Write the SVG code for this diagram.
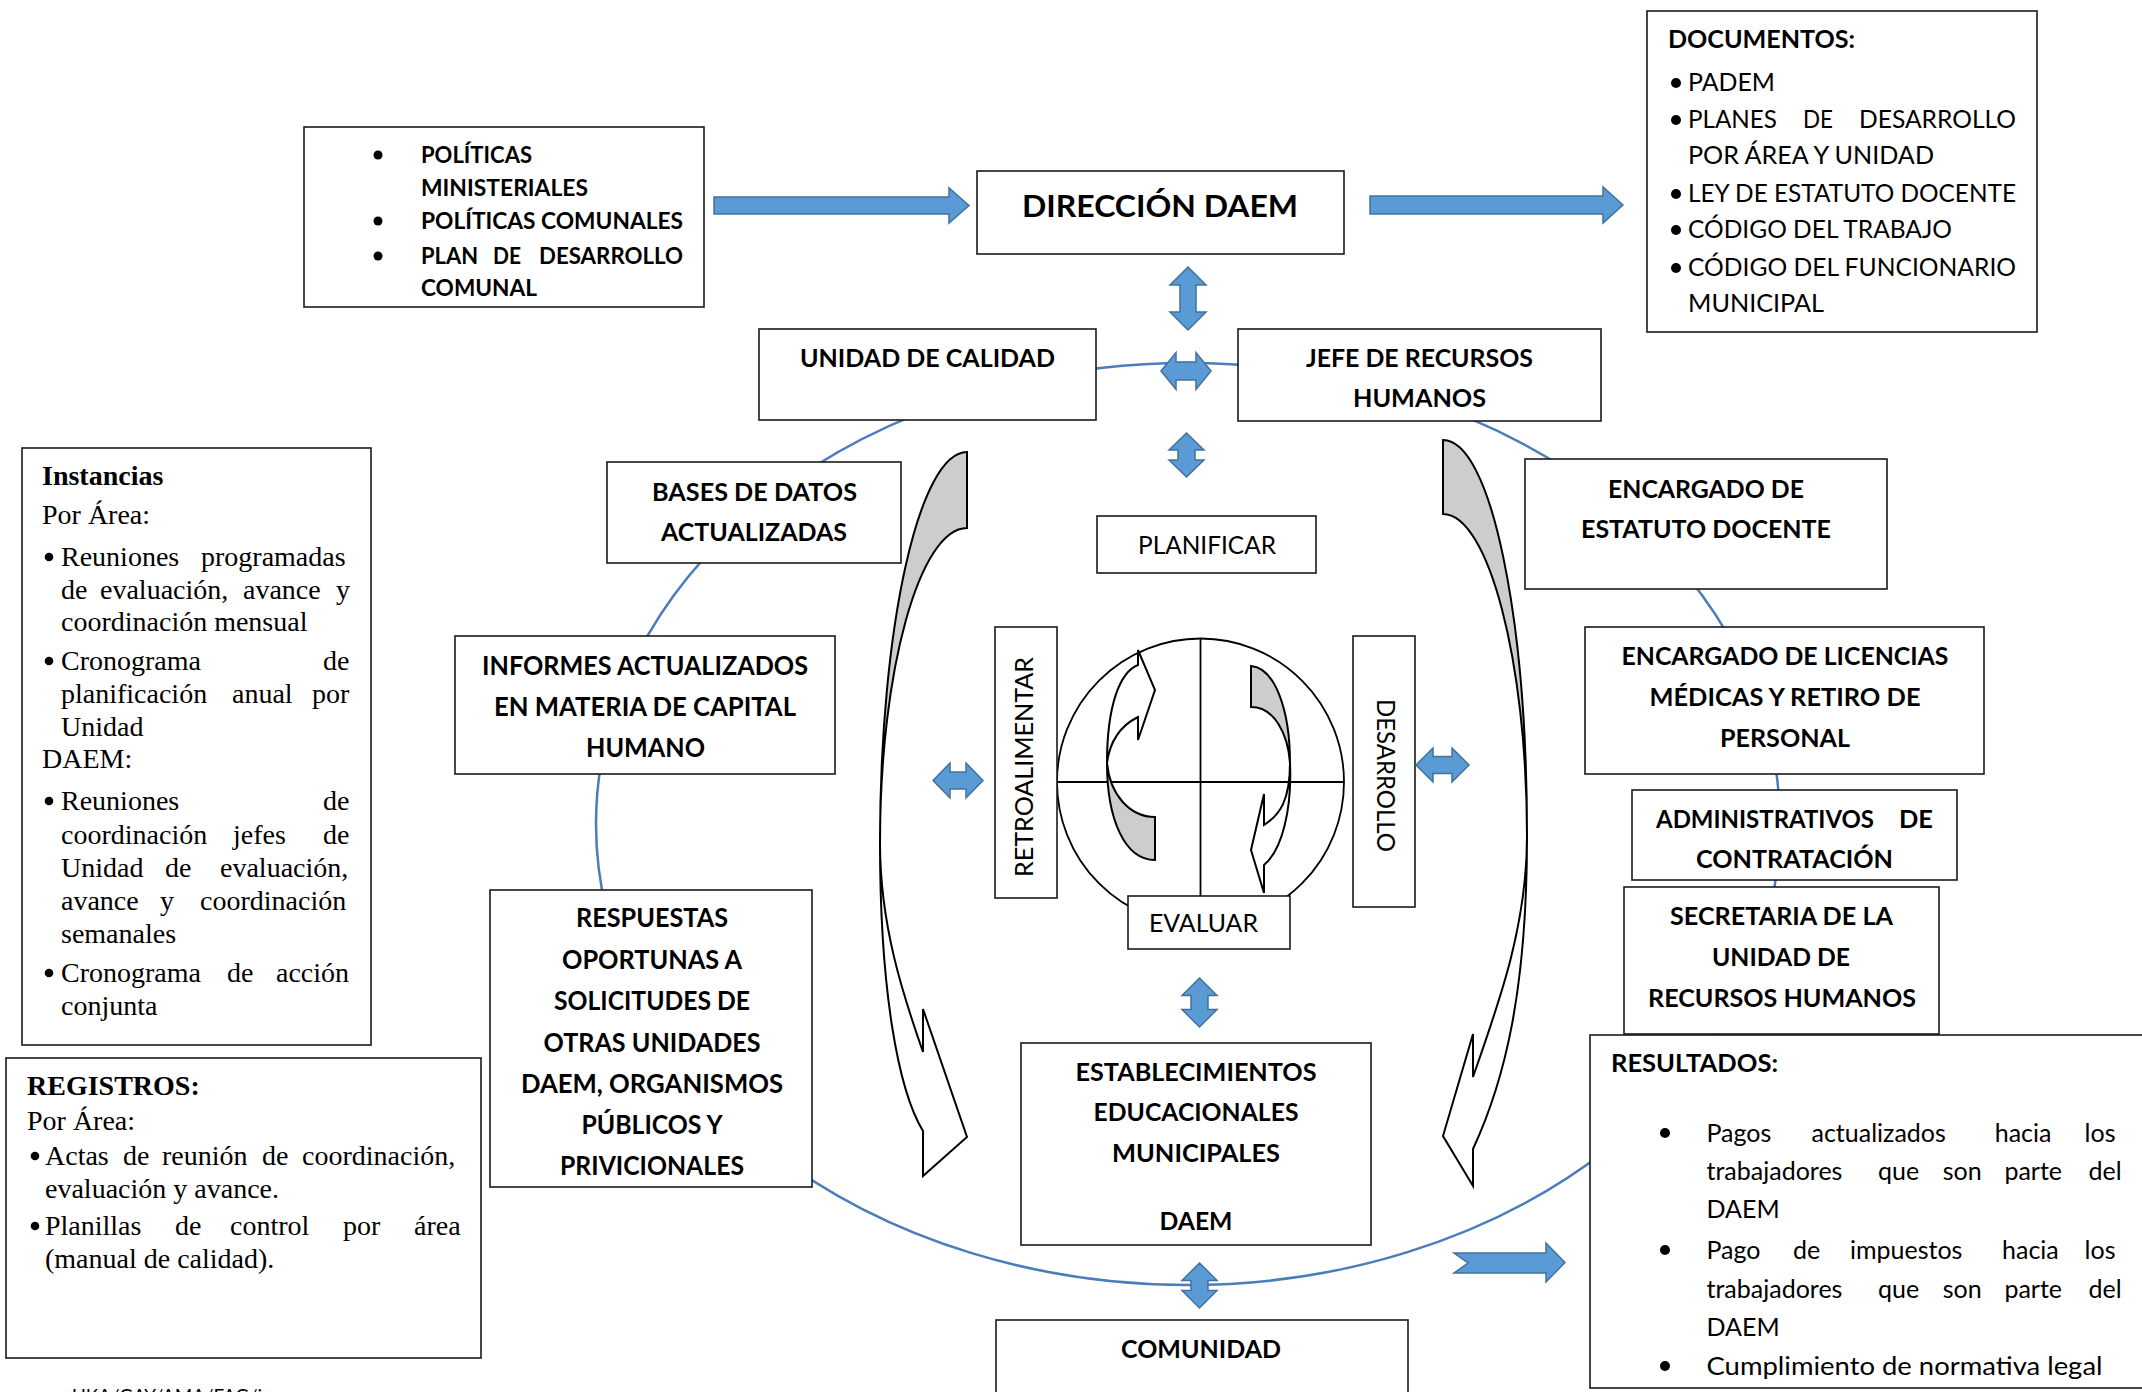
<svg xmlns="http://www.w3.org/2000/svg" width="2142" height="1392" viewBox="0 0 2142 1392">
<style>
.bg{fill:#fff}
.box{fill:#fff;stroke:#1a1a1a;stroke-width:1.6}
.blue{fill:#5B9BD5;stroke:#41719C;stroke-width:1.5;stroke-linejoin:miter}
.ring{fill:none;stroke:#4A7EBB;stroke-width:2.5}
.ln{fill:none;stroke:#000;stroke-width:1.8}
.cg{fill:#CDCDCD;stroke:#000;stroke-width:2;stroke-linejoin:miter}
.cw{fill:#fff;stroke:#000;stroke-width:2;stroke-linejoin:miter}
.cb{font-family:Lato,"Open Sans",sans-serif;font-weight:700;fill:#000}
.cr{font-family:Lato,"Open Sans",sans-serif;font-weight:400;fill:#000}
.tr{font-family:"Liberation Serif","Times New Roman",serif;font-size:28px;fill:#000}
.tb{font-family:"Liberation Serif","Times New Roman",serif;font-size:28px;font-weight:700;fill:#000}
.m{text-anchor:middle}
.dot{fill:#000}
</style>
<defs>
<clipPath id="resClip"><rect x="1590" y="1036" width="560" height="344"/></clipPath>
</defs>
<rect class="bg" x="0" y="0" width="2142" height="1392"/>

<g id="connectors">
<ellipse class="ring" cx="1188" cy="824" rx="592" ry="461"/>
</g>

<g id="politicas">
<rect class="box" x="304" y="127" width="400" height="180"/>
<circle class="dot" cx="378" cy="155" r="4.5"/>
<circle class="dot" cx="378" cy="221" r="4.5"/>
<circle class="dot" cx="378" cy="256" r="4.5"/>
<g class="cb" font-size="22">
<text x="421" y="163" textLength="111" lengthAdjust="spacingAndGlyphs">POLÍTICAS</text>
<text x="421" y="196" textLength="167" lengthAdjust="spacingAndGlyphs">MINISTERIALES</text>
<text x="421" y="229" textLength="262" lengthAdjust="spacingAndGlyphs">POLÍTICAS COMUNALES</text>
<text x="421" y="264" textLength="57" lengthAdjust="spacingAndGlyphs">PLAN</text>
<text x="493" y="264" textLength="28" lengthAdjust="spacingAndGlyphs">DE</text>
<text x="539" y="264" textLength="144" lengthAdjust="spacingAndGlyphs">DESARROLLO</text>
<text x="421" y="296" textLength="116" lengthAdjust="spacingAndGlyphs">COMUNAL</text>
</g>
</g>

<g id="direccion">
<rect class="box" x="977" y="171" width="367" height="83"/>
<text class="cb m" x="1160" y="217" font-size="30" textLength="276" lengthAdjust="spacingAndGlyphs">DIRECCIÓN DAEM</text>
</g>

<g id="documentos">
<rect class="box" x="1647" y="11" width="390" height="321"/>
<text class="cb" x="1668" y="48" font-size="25" textLength="187" lengthAdjust="spacingAndGlyphs">DOCUMENTOS:</text>
<circle class="dot" cx="1676" cy="83" r="5"/>
<circle class="dot" cx="1676" cy="120" r="5"/>
<circle class="dot" cx="1676" cy="194" r="5"/>
<circle class="dot" cx="1676" cy="230" r="5"/>
<circle class="dot" cx="1676" cy="268" r="5"/>
<g class="cr" font-size="25">
<text x="1688" y="91" textLength="87" lengthAdjust="spacingAndGlyphs">PADEM</text>
<text x="1688" y="128" textLength="89" lengthAdjust="spacingAndGlyphs">PLANES</text>
<text x="1803" y="128" textLength="30" lengthAdjust="spacingAndGlyphs">DE</text>
<text x="1859" y="128" textLength="157" lengthAdjust="spacingAndGlyphs">DESARROLLO</text>
<text x="1688" y="164" textLength="246" lengthAdjust="spacingAndGlyphs">POR ÁREA Y UNIDAD</text>
<text x="1688" y="202" textLength="328" lengthAdjust="spacingAndGlyphs">LEY DE ESTATUTO DOCENTE</text>
<text x="1688" y="238" textLength="264" lengthAdjust="spacingAndGlyphs">CÓDIGO DEL TRABAJO</text>
<text x="1688" y="276" textLength="328" lengthAdjust="spacingAndGlyphs">CÓDIGO DEL FUNCIONARIO</text>
<text x="1688" y="312" textLength="136" lengthAdjust="spacingAndGlyphs">MUNICIPAL</text>
</g>
</g>

<g id="unidad-calidad">
<rect class="box" x="759" y="329" width="337" height="91"/>
<text class="cb m" x="927.5" y="367" font-size="25" textLength="255" lengthAdjust="spacingAndGlyphs">UNIDAD DE CALIDAD</text>
</g>

<g id="jefe-rrhh">
<rect class="box" x="1238" y="329" width="363" height="92"/>
<text class="cb m" x="1419.5" y="367" font-size="24" textLength="227" lengthAdjust="spacingAndGlyphs">JEFE DE RECURSOS</text>
<text class="cb m" x="1419.5" y="407" font-size="24" textLength="133" lengthAdjust="spacingAndGlyphs">HUMANOS</text>
</g>

<g id="instancias">
<rect class="box" x="22" y="448" width="349" height="597"/>
<text class="tb" x="42" y="485">Instancias</text>
<text class="tr" x="42" y="524">Por Área:</text>
<circle class="dot" cx="49" cy="557" r="4.3"/>
<text class="tr" y="566"><tspan x="61">Reuniones</tspan><tspan x="201">programadas</tspan></text>
<text class="tr" y="599"><tspan x="61">de</tspan><tspan x="100">evaluación,</tspan><tspan x="243">avance</tspan><tspan x="336">y</tspan></text>
<text class="tr" x="61" y="631">coordinación mensual</text>
<circle class="dot" cx="49" cy="661" r="4.3"/>
<text class="tr" y="670"><tspan x="61">Cronograma</tspan><tspan x="323">de</tspan></text>
<text class="tr" y="703"><tspan x="61">planificación</tspan><tspan x="232">anual</tspan><tspan x="312">por</tspan></text>
<text class="tr" x="61" y="736">Unidad</text>
<text class="tr" x="42" y="768">DAEM:</text>
<circle class="dot" cx="49" cy="801" r="4.3"/>
<text class="tr" y="810"><tspan x="61">Reuniones</tspan><tspan x="323">de</tspan></text>
<text class="tr" y="844"><tspan x="61">coordinación</tspan><tspan x="233">jefes</tspan><tspan x="323">de</tspan></text>
<text class="tr" y="877"><tspan x="61">Unidad</tspan><tspan x="165">de</tspan><tspan x="220">evaluación,</tspan></text>
<text class="tr" y="910"><tspan x="61">avance</tspan><tspan x="160">y</tspan><tspan x="200">coordinación</tspan></text>
<text class="tr" x="61" y="943">semanales</text>
<circle class="dot" cx="49" cy="973" r="4.3"/>
<text class="tr" y="982"><tspan x="61">Cronograma</tspan><tspan x="227">de</tspan><tspan x="276">acción</tspan></text>
<text class="tr" x="61" y="1015">conjunta</text>
</g>

<g id="registros">
<rect class="box" x="6" y="1058" width="475" height="300"/>
<text class="tb" x="27" y="1095">REGISTROS:</text>
<text class="tr" x="27" y="1130">Por Área:</text>
<circle class="dot" cx="35" cy="1156" r="4.3"/>
<text class="tr" y="1165"><tspan x="45">Actas</tspan><tspan x="123">de</tspan><tspan x="162">reunión</tspan><tspan x="262">de</tspan><tspan x="302">coordinación,</tspan></text>
<text class="tr" x="45" y="1198">evaluación y avance.</text>
<circle class="dot" cx="35" cy="1226" r="4.3"/>
<text class="tr" y="1235"><tspan x="45">Planillas</tspan><tspan x="175">de</tspan><tspan x="230">control</tspan><tspan x="343">por</tspan><tspan x="414">área</tspan></text>
<text class="tr" x="45" y="1268">(manual de calidad).</text>
</g>

<g id="footer">
<text class="cr" x="72" y="1403" font-size="20" textLength="216" lengthAdjust="spacingAndGlyphs">UKA/GAY/AMA/FAG/jqm</text>
</g>

<g id="bases-datos">
<rect class="box" x="607" y="462" width="294" height="101"/>
<text class="cb m" x="754.5" y="501" font-size="25" textLength="205" lengthAdjust="spacingAndGlyphs">BASES DE DATOS</text>
<text class="cb m" x="754" y="541" font-size="25" textLength="186" lengthAdjust="spacingAndGlyphs">ACTUALIZADAS</text>
</g>

<g id="informes">
<rect class="box" x="455" y="636" width="380" height="138"/>
<text class="cb m" x="645" y="675" font-size="26" textLength="326" lengthAdjust="spacingAndGlyphs">INFORMES ACTUALIZADOS</text>
<text class="cb m" x="645" y="716" font-size="26" textLength="302" lengthAdjust="spacingAndGlyphs">EN MATERIA DE CAPITAL</text>
<text class="cb m" x="645.5" y="757" font-size="26" textLength="119" lengthAdjust="spacingAndGlyphs">HUMANO</text>
</g>

<g id="respuestas">
<rect class="box" x="490" y="890" width="322" height="297"/>
<g class="cb m" font-size="26">
<text x="652" y="927" textLength="152" lengthAdjust="spacingAndGlyphs">RESPUESTAS</text>
<text x="652" y="969" textLength="180" lengthAdjust="spacingAndGlyphs">OPORTUNAS A</text>
<text x="652" y="1010" textLength="196" lengthAdjust="spacingAndGlyphs">SOLICITUDES DE</text>
<text x="652" y="1052" textLength="217" lengthAdjust="spacingAndGlyphs">OTRAS UNIDADES</text>
<text x="652" y="1093" textLength="262" lengthAdjust="spacingAndGlyphs">DAEM, ORGANISMOS</text>
<text x="652" y="1134" textLength="141" lengthAdjust="spacingAndGlyphs">PÚBLICOS Y</text>
<text x="652" y="1175" textLength="184" lengthAdjust="spacingAndGlyphs">PRIVICIONALES</text>
</g>
</g>

<g id="planificar">
<rect class="box" x="1097" y="516" width="219" height="57"/>
<text class="cr m" x="1207" y="554" font-size="25" textLength="138" lengthAdjust="spacingAndGlyphs">PLANIFICAR</text>
</g>

<g id="ciclo">
<circle class="ln" cx="1200.5" cy="782" r="143.5"/>
<path class="ln" d="M1057,782 H1344 M1200.5,638.5 V896"/>
<path class="cg" d="M1155,860 C1125,860 1107,820 1107,763 C1110,795 1130,817 1155,817 Z"/>
<path class="cw" d="M1107,763 C1107,705 1120,672 1138,665 L1138,650 L1155,690 L1138,740 L1138,717 C1122,725 1110,740 1107,763 Z"/>
<path class="cg" d="M1251,666 C1275,668 1290,710 1290,763 C1288,735 1275,707 1251,707 Z"/>
<path class="cw" d="M1290,763 C1290,800 1280,815 1264,825 L1264,794 L1251,850 L1264,893 L1264,865 C1282,850 1292,810 1290,763 Z"/>
</g>

<g id="retroalimentar">
<rect class="box" x="995" y="627" width="62" height="271"/>
<text class="cr m" transform="translate(1033,767) rotate(-90)" x="0" y="0" font-size="25" textLength="220" lengthAdjust="spacingAndGlyphs">RETROALIMENTAR</text>
</g>

<g id="desarrollo">
<rect class="box" x="1353" y="636" width="62" height="271"/>
<text class="cr m" transform="translate(1377,775.5) rotate(90)" x="0" y="0" font-size="25" textLength="153" lengthAdjust="spacingAndGlyphs">DESARROLLO</text>
</g>

<g id="evaluar">
<rect class="box" x="1128" y="896" width="162" height="53"/>
<text class="cr m" x="1203.5" y="932" font-size="25" textLength="109" lengthAdjust="spacingAndGlyphs">EVALUAR</text>
</g>

<g id="establecimientos">
<rect class="box" x="1021" y="1043" width="350" height="202"/>
<g class="cb m" font-size="24">
<text x="1196" y="1081" textLength="241" lengthAdjust="spacingAndGlyphs">ESTABLECIMIENTOS</text>
<text x="1196" y="1121" textLength="205" lengthAdjust="spacingAndGlyphs">EDUCACIONALES</text>
<text x="1196" y="1162" textLength="168" lengthAdjust="spacingAndGlyphs">MUNICIPALES</text>
<text x="1196" y="1230" textLength="73" lengthAdjust="spacingAndGlyphs">DAEM</text>
</g>
</g>

<g id="comunidad">
<rect class="box" x="996" y="1320" width="412" height="90"/>
<text class="cb m" x="1201" y="1358" font-size="24" textLength="160" lengthAdjust="spacingAndGlyphs">COMUNIDAD</text>
</g>

<g id="encargado-estatuto">
<rect class="box" x="1525" y="459" width="362" height="130"/>
<text class="cb m" x="1706" y="498" font-size="24" textLength="196" lengthAdjust="spacingAndGlyphs">ENCARGADO DE</text>
<text class="cb m" x="1706" y="538" font-size="24" textLength="250" lengthAdjust="spacingAndGlyphs">ESTATUTO DOCENTE</text>
</g>

<g id="encargado-licencias">
<rect class="box" x="1585" y="627" width="399" height="147"/>
<text class="cb m" x="1785" y="665" font-size="24" textLength="327" lengthAdjust="spacingAndGlyphs">ENCARGADO DE LICENCIAS</text>
<text class="cb m" x="1785" y="706" font-size="24" textLength="271" lengthAdjust="spacingAndGlyphs">MÉDICAS Y RETIRO DE</text>
<text class="cb m" x="1785" y="747" font-size="24" textLength="130" lengthAdjust="spacingAndGlyphs">PERSONAL</text>
</g>

<g id="administrativos">
<rect class="box" x="1632" y="790" width="325" height="90"/>
<text class="cb" x="1656" y="828" font-size="24" textLength="218" lengthAdjust="spacingAndGlyphs">ADMINISTRATIVOS</text>
<text class="cb" x="1899" y="828" font-size="24" textLength="34" lengthAdjust="spacingAndGlyphs">DE</text>
<text class="cb m" x="1794.5" y="868" font-size="24" textLength="197" lengthAdjust="spacingAndGlyphs">CONTRATACIÓN</text>
</g>

<g id="secretaria">
<rect class="box" x="1624" y="887" width="315" height="147"/>
<text class="cb m" x="1781.5" y="925" font-size="24" textLength="223" lengthAdjust="spacingAndGlyphs">SECRETARIA DE LA</text>
<text class="cb m" x="1781" y="966" font-size="24" textLength="138" lengthAdjust="spacingAndGlyphs">UNIDAD DE</text>
<text class="cb m" x="1782" y="1007" font-size="24" textLength="268" lengthAdjust="spacingAndGlyphs">RECURSOS HUMANOS</text>
</g>

<g id="resultados">
<rect class="box" x="1590" y="1035" width="560" height="353"/>
<text class="cb" x="1611" y="1072" font-size="25" textLength="167" lengthAdjust="spacingAndGlyphs">RESULTADOS:</text>
<g clip-path="url(#resClip)">
<circle class="dot" cx="1665" cy="1133" r="5"/>
<circle class="dot" cx="1665" cy="1250" r="5"/>
<circle class="dot" cx="1665" cy="1366" r="5"/>
<g class="cr" font-size="25">
<text y="1142"><tspan x="1706.5">Pagos</tspan><tspan x="1811.5">actualizados</tspan><tspan x="1994.7">hacia</tspan><tspan x="2084.6">los</tspan></text>
<text y="1180"><tspan x="1706.5">trabajadores</tspan><tspan x="1878">que</tspan><tspan x="1942.7">son</tspan><tspan x="2004.4">parte</tspan><tspan x="2088.5">del</tspan></text>
<text x="1706.5" y="1218">DAEM</text>
<text y="1259"><tspan x="1706.5">Pago</tspan><tspan x="1793">de</tspan><tspan x="1850">impuestos</tspan><tspan x="2002">hacia</tspan><tspan x="2084.6">los</tspan></text>
<text y="1298"><tspan x="1706.5">trabajadores</tspan><tspan x="1878">que</tspan><tspan x="1942.7">son</tspan><tspan x="2004.4">parte</tspan><tspan x="2088.5">del</tspan></text>
<text x="1706.5" y="1336">DAEM</text>
<text x="1706.5" y="1375" textLength="396" lengthAdjust="spacingAndGlyphs">Cumplimiento de normativa legal</text>
</g>
</g>
</g>

<g id="flechas-curvas">
<path class="cg" d="M967,452 C919,452 880,627 880,843 C880,669 920,528 967,528 Z"/>
<path class="cw" d="M880,843 C880,925 903,995 923,1052 L923,1009 L967,1137 L923,1176 L923,1131 C898,1090 880,990 880,843 Z"/>
<path class="cg" d="M1443,440 C1491,440 1527,617 1527,836 C1527,660 1488,514 1443,514 Z"/>
<path class="cw" d="M1527,836 C1527,925 1500,1000 1473,1077 L1473,1034 L1443,1136 L1473,1186 L1473,1149 C1505,1080 1527,990 1527,836 Z"/>
</g>

<g id="flechas-azules">
<path class="blue" d="M714,197 H949 V188 L969,205.5 L949,223 V214 H714 Z"/>
<path class="blue" d="M1370,196 H1603 V187 L1623,205 L1603,223 V214 H1370 Z"/>
<path class="blue" d="M1188,267 L1206,285 H1196 V312 H1206 L1188,330 L1170,312 H1180 V285 H1170 Z"/>
<path class="blue" d="M1161,371 L1176,352.5 V362 H1196 V352.5 L1211,371 L1196,389.5 V380 H1176 V389.5 Z"/>
<path class="blue" d="M1186.5,433 L1204,450 H1195 V460 H1204 L1186.5,477 L1169,460 H1178 V450 H1169 Z"/>
<path class="blue" d="M933,780.5 L950,763 V772 H966 V763 L983,780.5 L966,798 V789 H950 V798 Z"/>
<path class="blue" d="M1416,765 L1433,748 V756.5 H1452 V748 L1469,765 L1452,782 V773.5 H1433 V782 Z"/>
<path class="blue" d="M1199.5,978 L1217,995.5 H1208 V1009.5 H1217 L1199.5,1027 L1182,1009.5 H1191 V995.5 H1182 Z"/>
<path class="blue" d="M1199.5,1263 L1217,1280.5 H1208 V1290.5 H1217 L1199.5,1308 L1182,1290.5 H1191 V1280.5 H1182 Z"/>
<path class="blue" d="M1454,1253 H1546 V1243 L1565,1262.5 L1546,1282 V1273 H1454 L1468,1263 Z"/>
</g>
</svg>
